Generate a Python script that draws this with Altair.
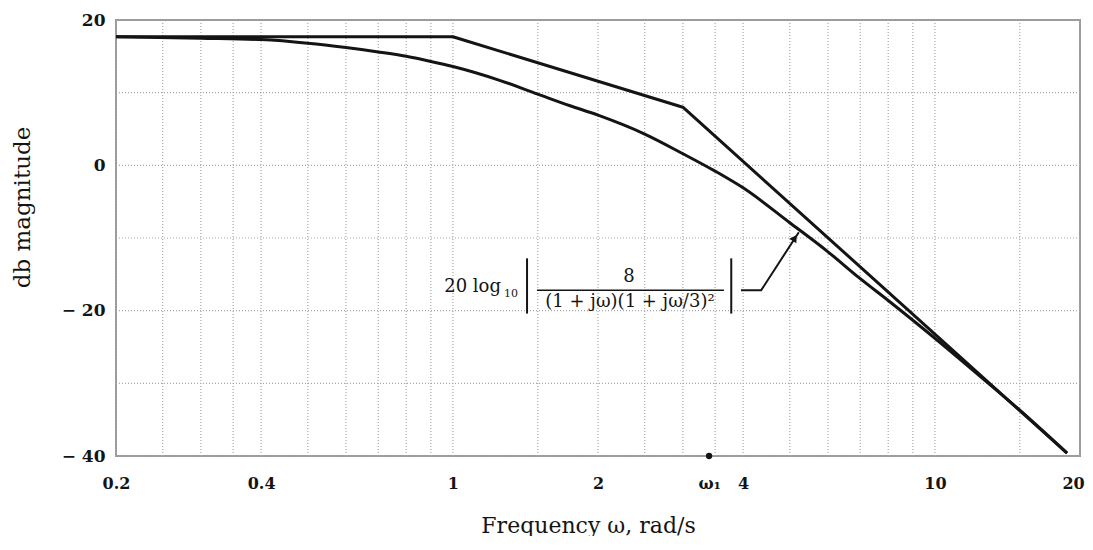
import altair as alt
import pandas as pd

# ---- data ----
omega_asym = [0.2, 1.0, 3.0, 18.8]
db_asym = [17.7, 17.7, 8.0, -39.6]

omega_exact = [0.2, 0.3, 0.4, 0.5, 0.6, 0.7, 0.8, 0.9, 1.0, 1.25, 1.5, 1.75,
               2.0, 2.5, 3.0, 3.5, 4.0, 5.0, 6.0, 7.0, 8.0, 10.0, 12.5, 15.0, 18.8]
db_exact = [17.7, 17.5, 17.3, 16.8, 16.2, 15.6, 15.0, 14.3, 13.6, 11.7, 9.8, 8.2,
            6.9, 4.3, 1.6, -0.8, -3.1, -7.9, -11.9, -15.6, -18.6, -23.8, -29.2, -33.7, -39.6]

x_grid = [0.2, 0.25, 0.3, 0.35, 0.4, 0.5, 0.6, 0.7, 0.8, 0.9, 1, 1.5, 2, 2.5, 3, 3.5,
          4, 5, 6, 7, 8, 9, 10, 15, 20]
y_grid = [-40, -30, -20, -10, 0, 10, 20]

x_ticks = [0.2, 0.4, 1, 2, 3.4, 4, 10, 20]
y_ticks = [-40, -20, 0, 20]
omega1 = [3.4]
omega1_db = [-40]

# annotation (formula) pieces, in data coordinates
ann_text = ["20 log", "10", "8", "(1 + jω)(1 + jω/3)²"]
ann_omega = [1.258, 1.277, 2.32, 2.33]
ann_db = [-16.8, -17.7, -15.4, -18.8]
ann_align = ["right", "left", "center", "center"]
ann_size = [18, 11, 18, 18]

frac_omega = [1.494]
frac_omega2 = [3.65]
frac_db = [-17.2]

bar_omega = [1.425, 3.78]
bar_db_top = [-12.8, -12.8]
bar_db_bot = [-20.4, -20.4]

leader_omega = [3.96, 4.36, 5.22]
leader_db = [-17.2, -17.2, -9.2]
arrow_omega = [5.12]
arrow_db = [-10.0]

# ---- chart ----
FONT = "DejaVu Serif"
INK = "#141414"

x_scale = alt.Scale(type="log", domain=[0.2, 20], nice=False)
y_scale = alt.Scale(domain=[-40, 20], nice=False)

x_axis = alt.Axis(
    values=x_ticks, grid=False, ticks=False, tickSize=0, domain=False,
    labelExpr="datum.value == 3.4 ? 'ω₁' : datum.label",
    labelFont=FONT, labelFontSize=16, labelFontWeight="bold", labelColor=INK,
    labelPadding=19, labelOverlap=False, labelFlush=False,
    labelOffset={"condition": {"test": "datum.value == 20", "value": -7}, "value": 0},
    title="Frequency ω, rad/s", titleFont=FONT, titleFontSize=22,
    titleFontWeight="normal", titleColor=INK,
    titleX=472, titleY=69, titleBaseline="middle", titleAlign="center",
)
y_axis = alt.Axis(
    values=y_ticks, grid=False, ticks=False, tickSize=0, domain=False,
    labelExpr="datum.value < 0 ? '− ' + abs(datum.value) : datum.label",
    labelFont=FONT, labelFontSize=17, labelFontWeight="bold", labelColor=INK,
    labelPadding=11, labelOverlap=False, labelFlush=False,
    title="db magnitude", titleFont=FONT, titleFontSize=23,
    titleFontWeight="normal", titleColor=INK,
    titleX=-94, titleY=187, titleBaseline="middle", titleAlign="center", titleAngle=-90,
)


def X(field):
    return alt.X(field, type="quantitative", scale=x_scale, axis=x_axis)


def Y(field):
    return alt.Y(field, type="quantitative", scale=y_scale, axis=y_axis)


df_xgrid = pd.DataFrame({"w": x_grid})
df_ygrid = pd.DataFrame({"d": y_grid})
df_asym = pd.DataFrame({"w": omega_asym, "d": db_asym})
df_exact = pd.DataFrame({"w": omega_exact, "d": db_exact})
df_ann = pd.DataFrame({"w": ann_omega, "d": ann_db, "t": ann_text,
                       "a": ann_align, "s": ann_size})
df_frac = pd.DataFrame({"w": frac_omega, "w2": frac_omega2, "d": frac_db})
df_bars = pd.DataFrame({"w": bar_omega, "d": bar_db_top, "d2": bar_db_bot})
df_leader = pd.DataFrame({"w": leader_omega, "d": leader_db})
df_arrow = pd.DataFrame({"w": arrow_omega, "d": arrow_db})
df_om1 = pd.DataFrame({"w": omega1, "d": omega1_db})

grid_style = dict(color="#a8a8a8", strokeWidth=1.2, strokeDash=[1, 2])

vgrid = alt.Chart(df_xgrid).mark_rule(**grid_style).encode(x=X("w"))
hgrid = alt.Chart(df_ygrid).mark_rule(**grid_style).encode(y=Y("d"))

asym = alt.Chart(df_asym).mark_line(color=INK, strokeWidth=3, strokeJoin="round").encode(
    x=X("w"), y=Y("d"))
exact = alt.Chart(df_exact).mark_line(color=INK, strokeWidth=3, interpolate="monotone").encode(
    x=X("w"), y=Y("d"))

texts = []
for i in range(len(ann_text)):
    sub = df_ann.iloc[[i]]
    texts.append(
        alt.Chart(sub).mark_text(font=FONT, fontSize=int(ann_size[i]), align=ann_align[i],
                                 baseline="middle", color=INK).encode(
            x=X("w"), y=Y("d"), text="t:N")
    )

frac = alt.Chart(df_frac).mark_rule(color=INK, strokeWidth=1.5).encode(
    x=X("w"), x2="w2:Q", y=Y("d"))
bars = alt.Chart(df_bars).mark_rule(color=INK, strokeWidth=2).encode(
    x=X("w"), y=Y("d"), y2="d2:Q")
leader = alt.Chart(df_leader).mark_line(color=INK, strokeWidth=2).encode(
    x=X("w"), y=Y("d"))
arrow = alt.Chart(df_arrow).mark_point(shape="triangle-up", filled=True, color=INK,
                                       size=70, angle=33, opacity=1).encode(
    x=X("w"), y=Y("d"))
om1 = alt.Chart(df_om1).mark_point(shape="circle", filled=True, color=INK,
                                   size=40, opacity=1).encode(x=X("w"), y=Y("d"))

chart = alt.layer(vgrid, hgrid, asym, exact, *texts, frac, bars, leader, arrow, om1).properties(
    width=964, height=436,
    padding={"left": 108, "top": 12, "right": 5, "bottom": 80},
    autosize=alt.AutoSizeParams(type="none"),
    background="white",
).configure_view(stroke="#9a9a9a", strokeWidth=2)

chart.save("out.html", embed_options={"renderer": "svg", "actions": False})
